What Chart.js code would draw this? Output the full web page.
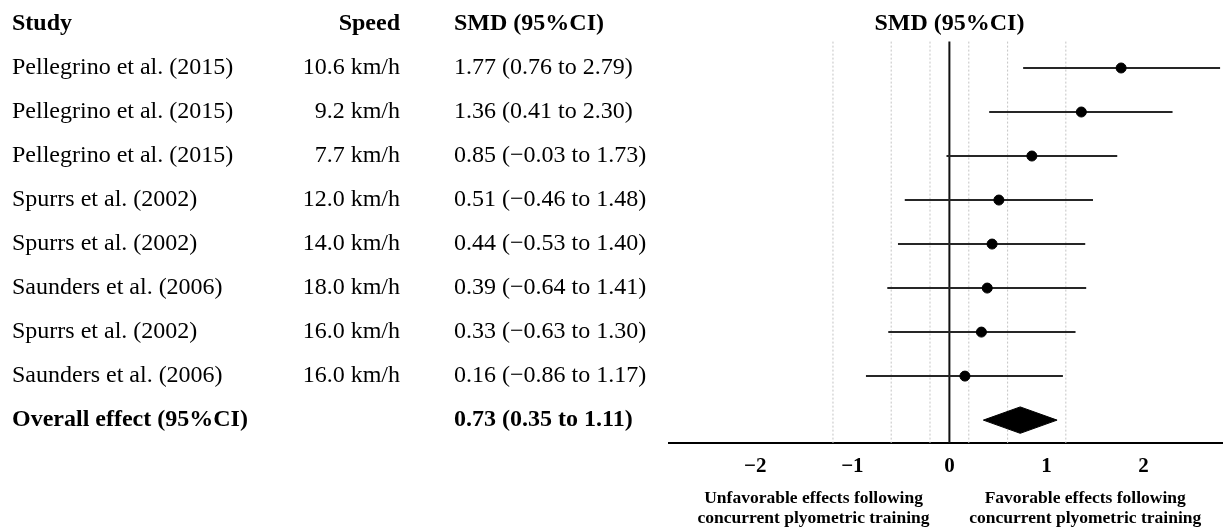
<!DOCTYPE html>
<html>
<head>
<meta charset="utf-8">
<script src="https://cdn.jsdelivr.net/npm/chart.js@4"></script>
<style>
  html, body { margin: 0; padding: 0; background: #fff; overflow: hidden; }
  canvas { display: block; }
</style>
</head>
<body>
<canvas id="forest" width="1223" height="527"></canvas>
<script>
const studies = ['Pellegrino et al. (2015)', 'Pellegrino et al. (2015)', 'Pellegrino et al. (2015)',
    'Spurrs et al. (2002)', 'Spurrs et al. (2002)', 'Saunders et al. (2006)',
    'Spurrs et al. (2002)', 'Saunders et al. (2006)'];
const speeds = ['10.6 km/h', '9.2 km/h', '7.7 km/h', '12.0 km/h', '14.0 km/h', '18.0 km/h', '16.0 km/h', '16.0 km/h'];
const smd = [1.77, 1.36, 0.85, 0.51, 0.44, 0.39, 0.33, 0.16];
const lower = [0.76, 0.41, -0.03, -0.46, -0.53, -0.64, -0.63, -0.86];
const upper = [2.79, 2.30, 1.73, 1.48, 1.40, 1.41, 1.30, 1.17];
const overall = [0.73, 0.35, 1.11]; // estimate, low, high
const thresholds = [-1.2, -0.6, -0.2, 0.2, 0.6, 1.2];
const xTicks = [-2, -1, 0, 1, 2];
const favourLabels = [
    ['Unfavorable effects following', 'concurrent plyometric training'],
    ['Favorable effects following', 'concurrent plyometric training']
];

const SERIF = '"Liberation Serif", "DejaVu Serif", serif';
const yMin = -0.636, yMax = 8.52;
const overallRow = studies.length;

function num(v) {
    const s = Math.abs(v).toFixed(2);
    return v < 0 ? '\u2212' + s : s;
}
function ciText(m, lo, hi) {
    return num(m) + ' (' + num(lo) + ' to ' + num(hi) + ')';
}

// higher order = drawn further back
const datasets = [];
thresholds.forEach(t => datasets.push({
    type: 'line', order: 5,
    data: [{x: t, y: -0.6}, {x: t, y: yMax}],
    borderColor: '#c4c4c4', borderWidth: 1, borderDash: [2, 2],
    pointRadius: 0
}));
datasets.push({
    type: 'line', order: 4,
    data: [{x: 0, y: -0.6}, {x: 0, y: yMax}],
    borderColor: '#111', borderWidth: 2, pointRadius: 0
});
studies.forEach((s, i) => datasets.push({
    type: 'line', order: 3,
    data: [{x: lower[i], y: i}, {x: upper[i], y: i}],
    borderColor: '#262626', borderWidth: 2, pointRadius: 0
}));
datasets.push({
    type: 'scatter', order: 1,
    data: smd.map((v, i) => ({x: v, y: i})),
    backgroundColor: '#000', borderColor: '#000',
    pointRadius: 5, pointHoverRadius: 5
});
datasets.push({
    type: 'line', order: 0,
    data: [
        {x: overall[1], y: overallRow},
        {x: overall[0], y: overallRow - 0.3},
        {x: overall[2], y: overallRow},
        {x: overall[0], y: overallRow + 0.3},
        {x: overall[1], y: overallRow}
    ],
    borderColor: '#000', borderWidth: 1,
    backgroundColor: '#000', fill: 'shape', pointRadius: 0, tension: 0
});

const tablePlugin = {
    id: 'table',
    afterDraw(chart) {
        const ctx = chart.ctx;
        const x = chart.scales.x, y = chart.scales.y;
        ctx.save();
        ctx.fillStyle = '#000';
        ctx.textBaseline = 'middle';

        const hy = y.getPixelForValue(-1);
        ctx.font = 'bold 24px ' + SERIF;
        ctx.textAlign = 'left';
        ctx.fillText('Study', 12, hy);
        ctx.fillText('SMD (95%CI)', 454, hy);
        ctx.textAlign = 'right';
        ctx.fillText('Speed', 400, hy);
        ctx.textAlign = 'center';
        ctx.fillText('SMD (95%CI)', x.getPixelForValue(0), hy);

        ctx.font = '24px ' + SERIF;
        studies.forEach((s, i) => {
            const py = y.getPixelForValue(i);
            ctx.textAlign = 'left';
            ctx.fillText(s, 12, py);
            ctx.fillText(ciText(smd[i], lower[i], upper[i]), 454, py);
            ctx.textAlign = 'right';
            ctx.fillText(speeds[i], 400, py);
        });

        const oy = y.getPixelForValue(overallRow);
        ctx.font = 'bold 24px ' + SERIF;
        ctx.textAlign = 'left';
        ctx.fillText('Overall effect (95%CI)', 12, oy);
        ctx.fillText(ciText(overall[0], overall[1], overall[2]), 454, oy);

        ctx.font = 'bold 17.5px ' + SERIF;
        ctx.textAlign = 'center';
        [-1.4, 1.4].forEach((v, k) => {
            const px = x.getPixelForValue(v);
            ctx.fillText(favourLabels[k][0], px, 498);
            ctx.fillText(favourLabels[k][1], px, 518);
        });
        ctx.restore();
    }
};

Chart.defaults.font.family = SERIF;
Chart.defaults.color = '#000';

new Chart(document.getElementById('forest'), {
    type: 'scatter',
    data: {datasets: datasets},
    options: {
        responsive: false,
        animation: false,
        events: [],
        layout: {autoPadding: false, padding: {left: 669, top: 40, right: 0, bottom: 0}},
        plugins: {legend: {display: false}, tooltip: {enabled: false}},
        scales: {
            x: {
                type: 'linear',
                min: -2.89, max: 2.82,
                afterFit: s => { s.height = 84; s.paddingLeft = 0; s.paddingRight = 0; },
                grid: {display: false, drawTicks: false},
                border: {display: true, color: '#000', width: 2},
                afterBuildTicks: s => { s.ticks = xTicks.map(v => ({value: v})); },
                ticks: {
                    padding: 11,
                    font: {size: 21, weight: 'bold'},
                    color: '#000',
                    callback: v => v < 0 ? '\u2212' + Math.abs(v) : String(v)
                }
            },
            y: {
                type: 'linear',
                display: false,
                reverse: true,
                min: yMin, max: yMax
            }
        }
    },
    plugins: [tablePlugin]
});
</script>
</body>
</html>
